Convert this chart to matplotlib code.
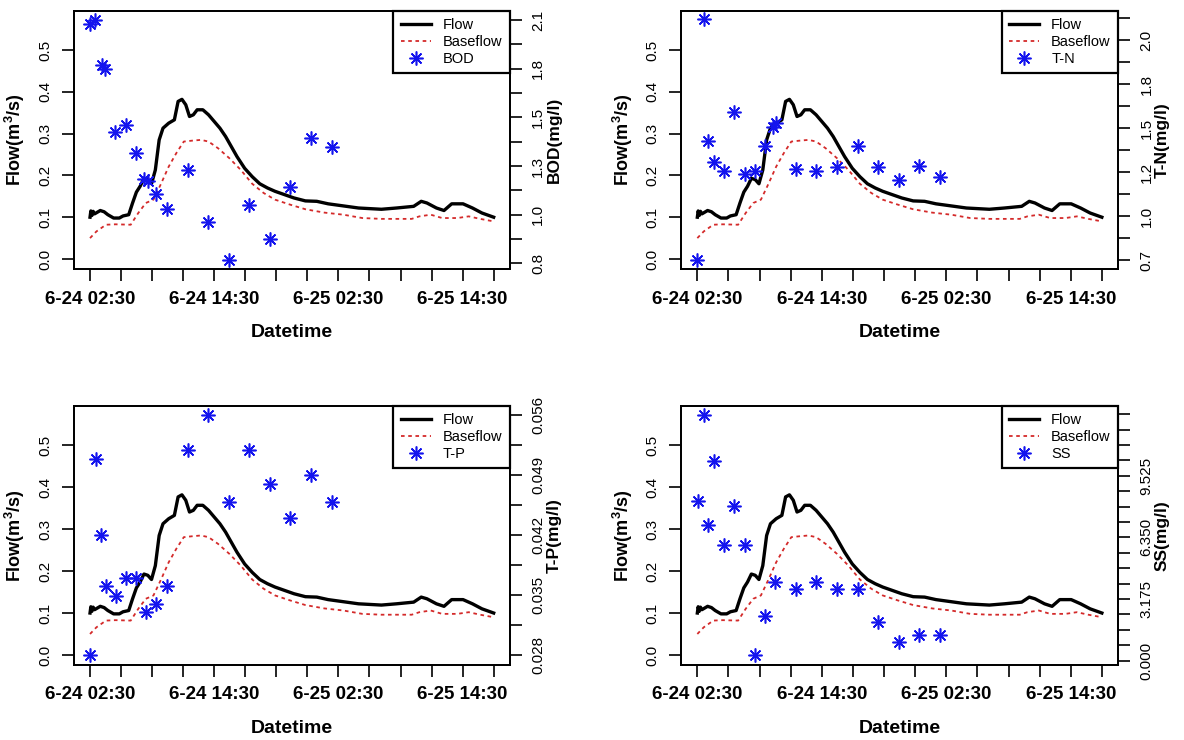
import numpy as np
import pandas as pd
import matplotlib
matplotlib.use('Agg')
import matplotlib.pyplot as plt
from matplotlib.lines import Line2D

plt.rcParams['font.family'] = ['Liberation Sans', 'DejaVu Sans']
plt.rcParams['mathtext.default'] = 'regular'

start = pd.Timestamp('2019-06-24 02:30')

# hydrograph, hours after 6-24 02:30, m3/s
flow_hours = [0.00, 0.08, 0.18, 0.30, 0.44, 0.99, 1.36, 1.72, 2.28, 2.83, 3.19, 3.74,
              4.11, 4.48, 4.84, 5.21, 5.58, 5.94, 6.31, 6.68, 7.05, 7.60, 8.15, 8.51,
              8.88, 9.25, 9.61, 9.98, 10.35, 10.90, 11.45, 12.00, 12.55, 13.10, 13.65,
              14.20, 14.94, 15.67, 16.40, 17.14, 17.87, 18.79, 19.71, 20.81, 21.91,
              23.01, 24.48, 25.94, 28.15, 29.61, 31.27, 32.00, 32.55, 33.47, 34.20,
              34.94, 36.04, 36.95, 37.87, 39.00]
flow = [0.100, 0.115, 0.104, 0.114, 0.108, 0.116, 0.113, 0.106, 0.098, 0.098, 0.103, 0.106,
        0.134, 0.160, 0.174, 0.193, 0.190, 0.180, 0.213, 0.285, 0.313, 0.325, 0.333, 0.377,
        0.382, 0.369, 0.341, 0.345, 0.357, 0.357, 0.345, 0.329, 0.313, 0.293, 0.269,
        0.245, 0.217, 0.197, 0.180, 0.170, 0.162, 0.154, 0.146, 0.139, 0.138,
        0.132, 0.127, 0.122, 0.119, 0.122, 0.126, 0.138, 0.134, 0.122, 0.116,
        0.132, 0.132, 0.122, 0.110, 0.100]

base_hours = [0.00, 0.62, 1.54, 2.46, 3.93, 4.66, 5.39, 6.13, 6.86, 7.60, 8.33, 9.06,
              9.80, 10.72, 11.45, 12.37, 13.47, 14.57, 15.67, 16.77, 17.87, 19.34,
              20.81, 22.64, 24.48, 26.31, 28.15, 31.08, 31.82, 32.92, 34.02, 35.49,
              36.59, 37.69, 39.00]
baseflow = [0.050, 0.066, 0.082, 0.083, 0.082, 0.110, 0.134, 0.142, 0.180, 0.221, 0.253, 0.281,
            0.283, 0.285, 0.281, 0.265, 0.241, 0.213, 0.180, 0.158, 0.142, 0.130,
            0.119, 0.111, 0.106, 0.098, 0.096, 0.096, 0.102, 0.106, 0.098, 0.098,
            0.102, 0.096, 0.090]

# water quality samples (mg/l)
bod_hours = [0.0, 0.5, 1.17, 1.47, 2.46, 3.45, 4.40, 5.21, 5.58, 6.39, 7.41, 9.43,
             11.38, 13.39, 15.38, 17.39, 19.34, 21.36, 23.38]
bod = [2.08, 2.10, 1.86, 1.84, 1.50, 1.54, 1.39, 1.25, 1.24, 1.17, 1.09, 1.30,
       1.02, 0.82, 1.11, 0.93, 1.21, 1.47, 1.42]

tn_hours = [0.0, 0.61, 1.07, 1.61, 2.61, 3.58, 4.58, 5.55, 6.52, 7.34, 7.59, 9.56,
            11.46, 13.50, 15.47, 17.44, 19.41, 21.38, 23.42]
tn = [0.70, 2.18, 1.43, 1.30, 1.25, 1.61, 1.23, 1.25, 1.40, 1.52, 1.54, 1.26,
      1.25, 1.27, 1.40, 1.27, 1.19, 1.28, 1.21]

tp_hours = [0.0, 0.55, 1.06, 1.54, 2.53, 3.49, 4.48, 5.39, 6.42, 7.41, 9.43, 11.38,
            13.39, 15.38, 17.39, 19.34, 21.36, 23.38]
tp = [0.0280, 0.0509, 0.0420, 0.0360, 0.0349, 0.0370, 0.0370, 0.0330, 0.0340, 0.0360,
      0.0520, 0.0560, 0.0459, 0.0520, 0.0480, 0.0440, 0.0490, 0.0459]

ss_hours = [0.07, 0.61, 1.07, 1.61, 2.61, 3.58, 4.58, 5.55, 6.52, 7.45, 9.49, 11.46,
            13.50, 15.47, 17.44, 19.41, 21.38, 23.42]
ss = [8.25, 12.66, 7.01, 10.28, 5.98, 7.99, 5.98, 0.28, 2.30, 4.03, 3.68, 4.03,
      3.68, 3.68, 2.01, 0.97, 1.32, 1.32]

# right-hand axis ticks
bod_ticks = np.linspace(0.8, 2.1, 11)
bod_labels = ['0.8', '', '1.0', '', '1.3', '', '1.5', '', '1.8', '', '2.1']
tn_ticks = np.linspace(0.7, 2.185, 12)
tn_labels = ['0.7', '', '1.0', '', '1.2', '', '1.5', '', '1.8', '', '2.0', '']
tp_ticks = np.linspace(0.028, 0.056, 9)
tp_labels = ['0.028', '', '0.035', '', '0.042', '', '0.049', '', '0.056']
ss_ticks = np.linspace(0.0, 12.7, 17)
ss_labels = ['0.000', '', '', '', '3.175', '', '', '', '6.350', '', '', '', '9.525',
             '', '', '', '']

flow_ticks = [0.0, 0.1, 0.2, 0.3, 0.4, 0.5]
x_ticks = np.arange(0, 40, 3)

panels = [
    ('BOD', bod_hours, bod, bod_ticks, bod_labels, (0.770, 2.150),
     [0.0624, 0.6365, 0.3682, 0.349]),
    ('T-N', tn_hours, tn, tn_ticks, tn_labels, (0.646, 2.232),
     [0.5753, 0.6365, 0.3690, 0.349]),
    ('T-P', tp_hours, tp, tp_ticks, tp_labels, (0.02683, 0.05709),
     [0.0624, 0.1014, 0.3682, 0.350]),
    ('SS', ss_hours, ss, ss_ticks, ss_labels, (-0.23, 13.13),
     [0.5753, 0.1014, 0.3690, 0.350]),
]

fig = plt.figure(figsize=(11.84, 7.4), dpi=100)

star = dict(ls='none', marker=(8, 2, 0), ms=10, mew=1.15, color='#1414ee')

for name, hrs, vals, ticks, labels, lim, pos in panels:
    ax = fig.add_axes(pos)
    ax.plot(flow_hours, flow, color='black', lw=2.4)
    ax.plot(base_hours, baseflow, color='#d42a2a', lw=1.3, ls=(0, (2, 2)))
    ax.set_xlim(-1.56, 40.56)
    ax.set_ylim(-0.0239, 0.594)
    ax.set_yticks(flow_ticks)
    ax.set_yticklabels([f'{v:.1f}' for v in flow_ticks])
    ax.set_xticks(x_ticks)
    xlabels = []
    for h in x_ticks:
        t = start + pd.Timedelta(hours=int(h))
        xlabels.append(f'{t.month}-{t.day} {t:%H:%M}' if h % 12 == 0 else '')
    ax.set_xticklabels(xlabels, fontweight='bold', fontsize=13.5)
    ax.tick_params(axis='both', length=8.5, width=1.2, pad=7)
    ax.tick_params(axis='y', labelsize=11, labelrotation=90)
    for lbl in ax.get_yticklabels():
        lbl.set_va('center')
    ax.set_xlabel('Datetime', fontsize=14, fontweight='bold', labelpad=12)
    ax.set_ylabel('Flow(m$^3$/s)', fontsize=13, fontweight='bold', labelpad=8)
    for sp in ax.spines.values():
        sp.set_linewidth(1.3)

    ax2 = ax.twinx()
    ax2.plot(hrs, vals, **star)
    ax2.set_ylim(*lim)
    ax2.set_yticks(ticks)
    ax2.set_yticklabels(labels)
    ax2.tick_params(axis='y', length=8.5, width=1.2, pad=7, labelsize=11, labelrotation=90)
    for lbl in ax2.get_yticklabels():
        lbl.set_va('center')
    ax2.set_ylabel(f'{name}(mg/l)', fontsize=12.5, fontweight='bold', labelpad=1)
    for sp in ax2.spines.values():
        sp.set_linewidth(1.3)

    handles = [Line2D([], [], color='black', lw=2.4),
               Line2D([], [], color='#d42a2a', lw=1.3, ls=(0, (2, 2))),
               Line2D([], [], **star)]
    leg = ax2.legend(handles, ['Flow', 'Baseflow', name], loc='upper right',
                     borderaxespad=0, fancybox=False, edgecolor='black', framealpha=1,
                     fontsize=10.5, handlelength=2.1, handletextpad=0.8,
                     labelspacing=0.2, borderpad=0.5)
    leg.get_frame().set_linewidth(1.6)

fig.savefig('out.png', dpi=100)
